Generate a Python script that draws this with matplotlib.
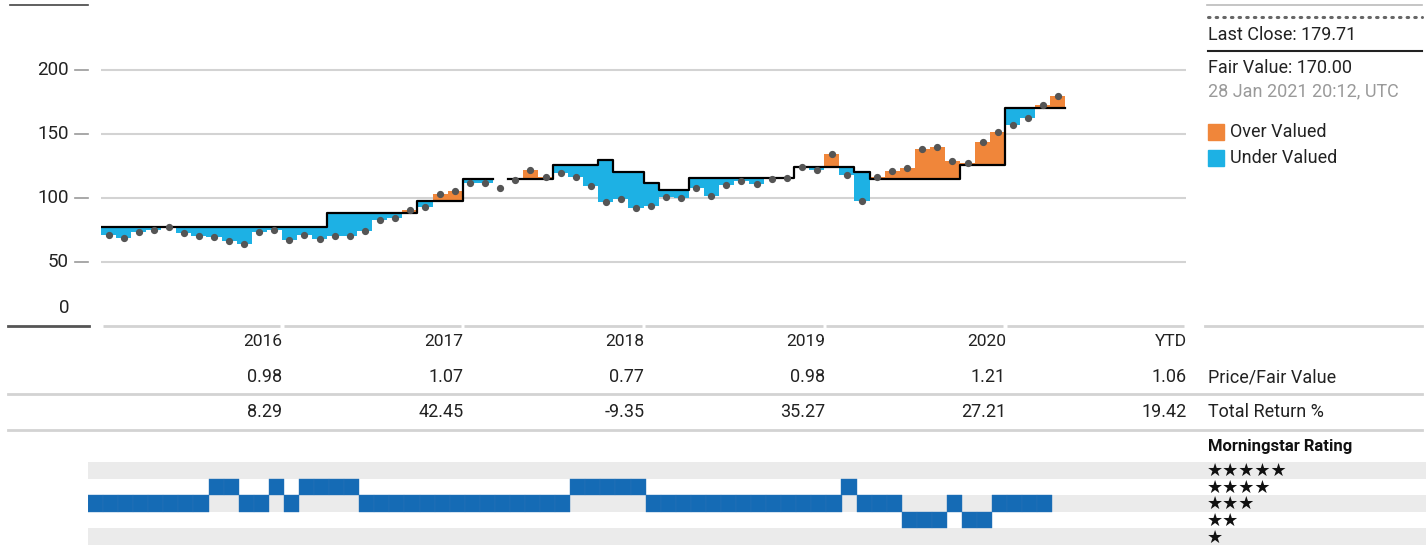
import numpy as np
import matplotlib
matplotlib.use("Agg")
import matplotlib.pyplot as plt
from matplotlib.patches import Rectangle
from matplotlib.lines import Line2D
from matplotlib.transforms import blended_transform_factory

# ---------------- data ----------------
# monthly fair value (NaN = not available)
fair_value = [77]*15 + [88]*6 + [98]*3 + [115]*2 + [np.nan] + [115]*3 + [125.5]*3 + [130] + [120]*2 + [112] + [106]*2 \
    + [116]*7 + [124]*4 + [120] + [114.5]*6 + [125.5]*3 + [170]*4
price = [71.1, 69.0, 73.4, 75.3, 77.6, 72.9, 70.6, 69.5, 66.4, 63.8, 73.7, 75.0,
         67.2, 71.1, 68.0, 70.6, 70.0, 74.2, 82.8, 84.4, 90.6, 93.0, 103.1, 105.2,
         112.0, 112.0, 108.1, 114.1, 121.6, 116.6, 119.5, 116.2, 109.4, 97.1, 99.5, 92.4,
         93.8, 100.5, 100.3, 107.6, 101.3, 110.2, 113.5, 110.9, 114.6, 115.9, 124.0, 122.1,
         134.1, 118.2, 97.9, 116.2, 121.1, 123.7, 138.5, 139.8, 128.7, 127.1, 143.8, 151.8,
         157.3, 162.7, 172.4, 179.71]
rating = [3]*8 + [4]*2 + [3]*2 + [4] + [3] + [4]*4 + [3]*14 + [4]*5 + [3]*13 + [4] + [3]*3 + [2]*3 + [3] + [2]*2 + [3]*4

years = ["2016", "2017", "2018", "2019", "2020", "YTD"]
price_fair = ["0.98", "1.07", "0.77", "0.98", "1.21", "1.06"]
total_return = ["8.29", "42.45", "-9.35", "35.27", "27.21", "19.42"]
yticks = [0, 50, 100, 150, 200]
last_close = "179.71"
fair_now = "170.00"
stamp = "28 Jan 2021 20:12, UTC"

# ---------------- style ----------------
ORANGE = "#F0863A"
BLUE = "#1DB1E4"
RBLUE = "#156BB5"
GRID = "#d3d3d3"
BAND = "#ebebeb"
FONT = ["Roboto", "DejaVu Sans"]
plt.rcParams["font.family"] = FONT
FS = 13

W, H = 1426, 556
def fx(x): return x / W
def fy(y): return 1 - y / H

fig = plt.figure(figsize=(W/100, H/100), dpi=100)

# ---------------- main price chart ----------------
MW = 15.07
ax = fig.add_axes([fx(101), fy(326), 72*MW/W, 320/H])
ax.set_xlim(0, 72)
ax.set_ylim(0, 250)
ax.axis("off")

for v in yticks[1:]:
    ax.axhline(v, color=GRID, lw=1.5, zorder=0)

n = len(price)
months = np.arange(n)
fv = np.array(fair_value, dtype=float)
pr = np.array(price, dtype=float)
valid = ~np.isnan(fv)
lo = np.minimum(fv, pr)
hi = np.maximum(fv, pr)
cols = [ORANGE if p > f else BLUE for p, f in zip(pr, fv)]
ax.bar(months[valid], (hi - lo)[valid], bottom=lo[valid], width=1, align="edge",
       color=np.array(cols)[valid], edgecolor="none", zorder=2)

xs = np.arange(n + 1)
ys = np.append(fv, fv[-1])
ax.plot(xs, ys, drawstyle="steps-post", color="black", lw=1.6, zorder=3)
ax.plot(months + 0.5, pr, "o", color="#555555", ms=4.2, zorder=4)

# table top segments (at 0 line)
for k in range(6):
    ax.plot([12*k + 0.12, 12*(k+1) - 0.12], [0, 0], color=GRID, lw=2, clip_on=False,
            solid_capstyle="butt")

# y tick labels & dashes (figure coords)
tr_y = blended_transform_factory(fig.transFigure, ax.transData)
for v in yticks:
    if v == 0:
        fig.text(fx(69), fy(308), str(v), ha="right", va="center", fontsize=13.5, color="#222")
    else:
        ax.text(fx(69), v, str(v), transform=tr_y, ha="right", va="center", fontsize=13.5, color="#222")
        ax.add_line(Line2D([fx(75), fx(88)], [v, v], transform=tr_y, color="#999", lw=1.2, clip_on=False))

# left frame segments
fig.add_artist(Line2D([fx(10), fx(88)], [fy(5), fy(5)], color="#444", lw=1.2))
fig.add_artist(Line2D([fx(8), fx(89)], [fy(326), fy(326)], color="#555", lw=2))
fig.add_artist(Line2D([fx(1205), fx(1422)], [fy(326), fy(326)], color=GRID, lw=2))
fig.add_artist(Line2D([fx(1207), fx(1422)], [fy(5), fy(5)], color="#bbb", lw=1.2))

# ---------------- right info panel ----------------
fig.add_artist(Line2D([fx(1208), fx(1422)], [fy(17), fy(17)], color="#666", lw=2.2,
                      linestyle=(0, (0.5, 2.0)), dash_capstyle="round"))
fig.text(fx(1208), fy(35), f"Last Close: {last_close}", fontsize=FS, color="#222", va="center")
fig.add_artist(Line2D([fx(1208), fx(1422)], [fy(51), fy(51)], color="#222", lw=1.5))
fig.text(fx(1208), fy(68), f"Fair Value: {fair_now}", fontsize=FS, color="#222", va="center")
fig.text(fx(1208), fy(91), stamp, fontsize=FS, color="#9a9a9a", va="center")
for yy, c, lab in [(132, ORANGE, "Over Valued"), (158, BLUE, "Under Valued")]:
    fig.add_artist(Rectangle((fx(1208), fy(yy + 8)), 16/W, 16/H, color=c, transform=fig.transFigure))
    fig.text(fx(1230), fy(yy), lab, fontsize=FS, color="#222", va="center")

# ---------------- table ----------------
tr_x = blended_transform_factory(ax.transData, fig.transFigure)
for k in range(6):
    xr = 12*(k+1) + 0.05
    ax.text(xr, fy(342), years[k], transform=tr_x, ha="right", va="center", fontsize=12.5, color="#222")
    ax.text(xr, fy(377), price_fair[k], transform=tr_x, ha="right", va="center", fontsize=FS, color="#222")
    ax.text(xr, fy(412), total_return[k], transform=tr_x, ha="right", va="center", fontsize=FS, color="#222")
fig.text(fx(1208), fy(377), "Price/Fair Value", fontsize=FS, color="#222", va="center")
fig.text(fx(1208), fy(412), "Total Return %", fontsize=FS, color="#222", va="center")
for yy in (394, 430):
    fig.add_artist(Line2D([fx(8), fx(1422)], [fy(yy), fy(yy)], color=GRID, lw=2))

# ---------------- rating chart ----------------
axr = fig.add_axes([fx(88), fy(545), 72*MW/W, (545 - 462)/H])
axr.set_xlim(0, 72)
axr.set_ylim(0.5, 5.5)
axr.axis("off")
tr_r = blended_transform_factory(fig.transFigure, axr.transData)
for r in (5, 3, 1):
    axr.add_patch(Rectangle((fx(88), r - 0.5), 1 - fx(88), 1, transform=tr_r, color=BAND,
                            zorder=0, clip_on=False, lw=0))
rat = np.array(rating)
axr.bar(np.arange(len(rat)), 1, bottom=rat - 0.5, width=1, align="edge", color=RBLUE,
        edgecolor="#2a74b8", lw=0.3, zorder=2)
fig.text(fx(1208), fy(447), "Morningstar Rating", fontsize=12, fontweight="bold", color="#111", va="center")
for r in range(1, 6):
    axr.text(fx(1207), r - 0.05, "\u2605" * r, transform=tr_r, fontsize=13, va="center", ha="left",
             color="#111", family=["DejaVu Sans"])

fig.savefig("out.png", dpi=100)
